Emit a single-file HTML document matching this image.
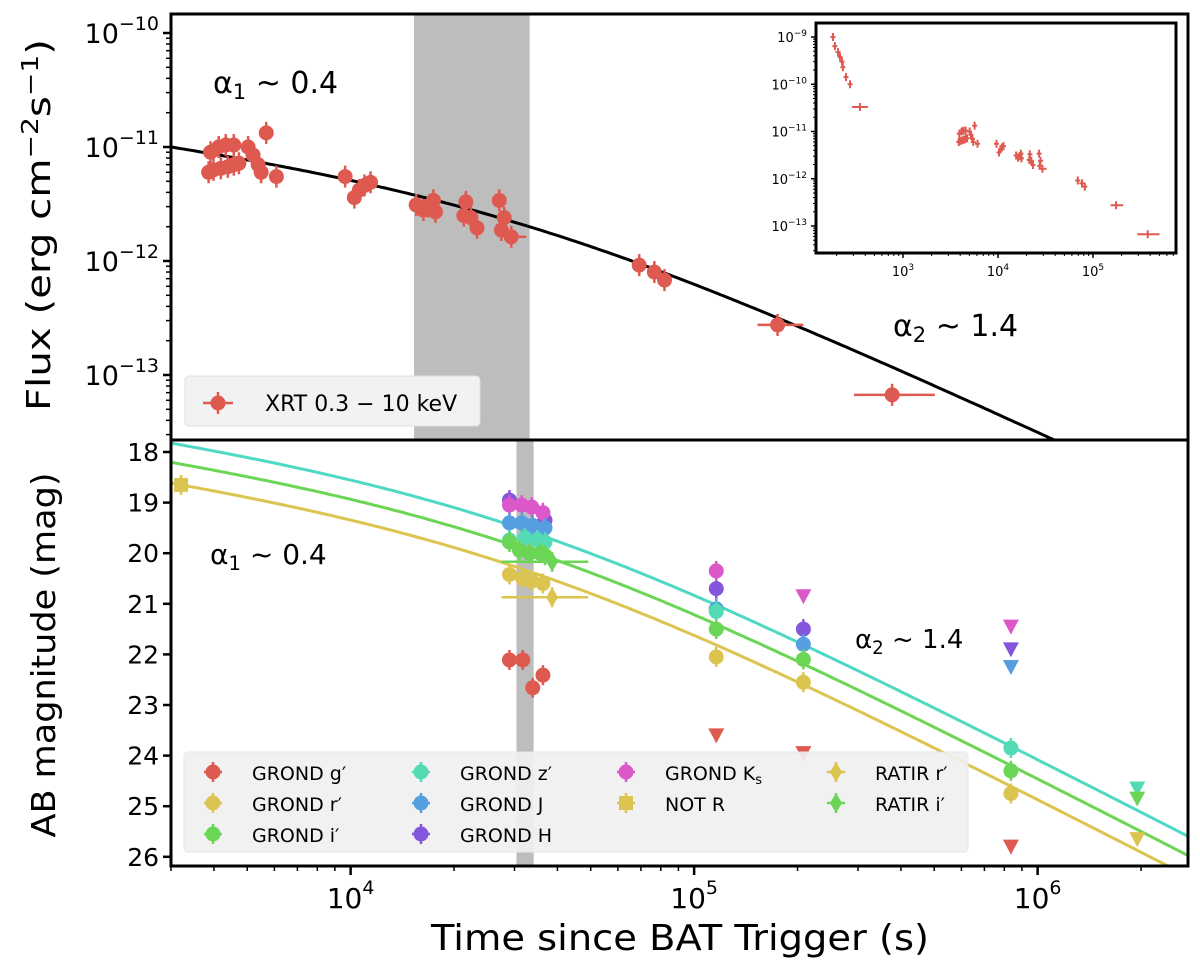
<!DOCTYPE html>
<html><head><meta charset="utf-8"><style>
html,body{margin:0;padding:0;background:#fff;}
svg{display:block;font-family:"DejaVu Sans","Liberation Sans",sans-serif;}
</style></head><body>
<svg id="chart" width="1200" height="966" viewBox="0 0 1200 966" xmlns="http://www.w3.org/2000/svg">
<g id="top"></g>
<g id="inset"></g>
<g id="bot"></g>
<g id="frames"></g>
</svg>
<script>
// ---- X-ray data (time s, flux erg/cm2/s) ----
const xrtT = [3860,3990,4190,4390,4570,4730,3910,4130,4330,4570,5030,5200,5380,5490,5680,6080,9640,10250,10610,10970,11430,15520,16290,16840,17420,17660,21360,21650,22400,23330,27090,27470,28000,29350,69200,76600,82000,175000,377000];
const xrtF = [6.0e-12,6.3e-12,6.5e-12,6.7e-12,7.0e-12,7.2e-12,9.0e-12,1.0e-11,1.04e-11,1.04e-11,1.0e-11,8.5e-12,7.0e-12,6.0e-12,1.33e-11,5.5e-12,5.5e-12,3.6e-12,4.2e-12,4.6e-12,4.9e-12,3.1e-12,2.8e-12,3.0e-12,3.4e-12,2.7e-12,2.5e-12,3.3e-12,2.4e-12,1.95e-12,3.4e-12,1.87e-12,2.4e-12,1.63e-12,9.2e-13,8.0e-13,6.8e-13,2.75e-13,6.7e-14];
const xrtTlo = [null,null,null,null,null,null,null,null,null,null,null,null,null,null,null,null,null,null,null,null,null,null,null,null,null,null,null,null,null,null,null,null,null,null,null,null,null,153000,292000];
const xrtThi = [null,null,null,null,null,null,null,null,null,null,null,null,null,null,null,null,null,null,null,null,null,null,null,null,null,null,null,null,null,null,null,null,null,32500,null,null,null,208000,502000];
const earlyT = [183,192,207,217,228,233,251,277,352];
const earlyF = [1.0e-9,6.4e-10,4.8e-10,3.8e-10,3.0e-10,2.3e-10,1.42e-10,1.0e-10,3.3e-11];
// model parameters
const alpha1 = 0.4, alpha2 = 1.4, tBreak = 30000, normF = 4.38e-12;
const magZero = {teal:18.72, green:19.10, yellow:19.51};
// ---- optical data (time, AB mag) ----
const gT=[29000,31700,33900,36300], gM=[22.11,22.11,22.66,22.41];
const rT=[29000,31700,33700,36300,116000,208000,836000], rM=[20.42,20.5,20.55,20.6,22.05,22.55,24.75];
const iT=[29000,31000,33200,35600,36800,116000,208000,836000], iM=[19.78,19.94,20.0,20.0,20.04,21.5,22.1,24.3];
const zT=[29000,32100,35000,36800,116000,836000], zM=[19.74,19.7,19.74,19.78,21.15,23.85];
const jT=[29000,31500,33900,36800,116000,208000], jM=[19.4,19.4,19.45,19.5,21.1,21.8];
const hT=[29000,36800,116000,208000], hM=[18.95,19.35,20.7,21.5];
const kT=[29000,31500,33700,36300,116000], kM=[19.05,19.05,19.09,19.2,20.35];
const notT=[3210], notM=[18.65];
const ratRT=[38600], ratRM=[20.87], ratIT=[38600], ratIM=[20.17];
const ulT=[116000,208000,208000,836000,836000,836000,836000,1950000,1950000,1950000];
const ulM=[23.6,20.85,23.95,21.45,21.9,22.25,25.8,24.65,24.85,25.65];
const ulBand=['g','k','g','k','h','j','g','z','i','r'];

const C={g:'#de5a50',r:'#dcc450',i:'#6bd655',z:'#52dbb4',j:'#559ee0',h:'#8456dc',k:'#dc57c8',teal:'#4fd8c4',green:'#6bd655',yellow:'#dcc450'};
const NS='http://www.w3.org/2000/svg';
function el(tag,attrs,parent){const e=document.createElementNS(NS,tag);for(const k in attrs)e.setAttribute(k,attrs[k]);parent.appendChild(e);return e;}
const L=171,R=1188, T1=14,B1=440, T2=440,B2=866;
const lx0=Math.log10(3000), lx1=Math.log10(2.74e6);
function X(t){return L+(Math.log10(t)-lx0)/(lx1-lx0)*(R-L);}
function Yf(f){return 33+(-10-Math.log10(f))*114;}
function Ym(m){return 452+(m-18)*50.6;}
function shape(t){const r=t/tBreak;return 1/(Math.pow(r,alpha1)+Math.pow(r,alpha2));}
const gTop=document.getElementById('top'), bot=document.getElementById('bot'), ins=document.getElementById('inset'), frames=document.getElementById('frames');

const defs=el('defs',{},document.getElementById('chart'));
const c1=el('clipPath',{id:'c1'},defs); el('rect',{x:L,y:T1,width:R-L,height:B1-T1},c1);
const c2=el('clipPath',{id:'c2'},defs); el('rect',{x:L,y:T2,width:R-L,height:B2-T2},c2);

let b=el('rect',{x:X(15300),y:T1,width:X(33200)-X(15300),height:B1-T1,fill:'#bdbdbd'},gTop);


b=el('rect',{x:X(30400),y:T2,width:X(34100)-X(30400),height:B2-T2,fill:'#bdbdbd'},bot);



let d='';for(let i=0;i<=300;i++){const lt=lx0+(lx1-lx0)*i/300,t=Math.pow(10,lt);d+=(i?'L':'M')+X(t).toFixed(1)+','+Yf(normF*shape(t)).toFixed(1);}
let p=el('path',{d:d,fill:'none',stroke:'#000','stroke-width':3,'clip-path':'url(#c1)'},gTop);



const gx=el('g',{'clip-path':'url(#c1)'},gTop);


xrtT.forEach((t,i)=>{const x=X(t),y=Yf(xrtF[i]);
 el('line',{x1:x,x2:x,y1:y-11,y2:y+11,stroke:C.g,'stroke-width':2.5},gx);
 if(xrtTlo[i]||xrtThi[i]) el('line',{x1:X(xrtTlo[i]||t),x2:X(xrtThi[i]||t),y1:y,y2:y,stroke:C.g,'stroke-width':2.5},gx);
 const c=el('circle',{cx:x,cy:y,r:7.5,fill:C.g},gx);
 
 
});

const lg=el('g',{},gTop);


el('rect',{x:185,y:376,width:295,height:50,rx:4,fill:'#f2f2f2',stroke:'#e0e0e0'},lg);
el('line',{x1:203,x2:233,y1:403,y2:403,stroke:C.g,'stroke-width':2.5},lg);
el('line',{x1:218,x2:218,y1:392,y2:414,stroke:C.g,'stroke-width':2.5},lg);
el('circle',{cx:218,cy:403,r:7.5,fill:C.g},lg);
let tx=el('text',{x:265,y:411,'font-size':22},lg);tx.textContent='XRT 0.3 − 10 keV';



function ann(par,x,y,sub,val,fs,name){const t=el('text',{x:x,y:y,'font-size':fs},par);
 t.innerHTML='α<tspan font-size="'+(fs*0.7)+'" dy="6">'+sub+'</tspan><tspan dy="-6"> ~ '+val+'</tspan>';
 
 }
ann(gTop,213,93,'1','0.4',30,'alpha1-annotation-top');
ann(gTop,893,336,'2','1.4',30,'alpha2-annotation-top');
ann(bot,210,564,'1','0.4',28,'alpha1-annotation-bottom');
ann(bot,855,648,'2','1.4',26,'alpha2-annotation-bottom');

const IL=816,IR=1176,IT=23,IB=253, ix0=2.084, ix1=5.874;
function IX(t){return IL+(Math.log10(t)-ix0)/(ix1-ix0)*(IR-IL);}
function IY(f){return 37+(-9-Math.log10(f))*47.25;}
el('rect',{x:IL,y:IT,width:IR-IL,height:IB-IT,fill:'#fff',stroke:'#000','stroke-width':3},ins);
const allT=earlyT.concat(xrtT), allF=earlyF.concat(xrtF);
const ilo=earlyT.map(()=>null).concat(xrtTlo), ihi=earlyT.map(()=>null).concat(xrtThi);
allT.forEach((t,i)=>{const x=IX(t),y=IY(allF[i]);
 const m=el('g',{},ins);
 
 
 el('line',{x1:x,x2:x,y1:y-4,y2:y+4,stroke:C.g,'stroke-width':2},m);
 const lo=ilo[i]?IX(ilo[i]):x-2.5, hi=ihi[i]?IX(ihi[i]):x+2.5;
 el('line',{x1:lo,x2:hi,y1:y,y2:y,stroke:C.g,'stroke-width':2},m);
 if(i===earlyT.length-1) el('line',{x1:x-8,x2:x+8,y1:y,y2:y,stroke:C.g,'stroke-width':2},m);
});
for(let e=-9;e>=-13;e--){const y=IY(Math.pow(10,e));el('line',{x1:IL-5,x2:IL,y1:y,y2:y,stroke:'#000','stroke-width':1.5},ins);
 const t=el('text',{x:IL-9,y:y+5,'font-size':13,'text-anchor':'end'},ins);t.innerHTML='10<tspan dy="-6" font-size="9">−'+(-e)+'</tspan>';
 
 
 for(let k=2;k<10;k++){const yy=IY(k*Math.pow(10,e-1));if(yy>IT&&yy<IB)el('line',{x1:IL-3,x2:IL,y1:yy,y2:yy,stroke:'#000','stroke-width':1},ins);}}
for(let e=2;e<=5;e++){for(let k=1;k<10;k++){const x=IX(k*Math.pow(10,e));if(x<IL||x>IR)continue;el('line',{x1:x,x2:x,y1:IB,y2:IB+(k==1?5:3),stroke:'#000','stroke-width':k==1?1.5:1},ins);}
 if(e>=3){const t=el('text',{x:IX(Math.pow(10,e)),y:IB+23,'font-size':13,'text-anchor':'middle'},ins);t.innerHTML='10<tspan dy="-6" font-size="9">'+e+'</tspan>';
 
 }}

[['teal','model-line-z'],['green','model-line-i'],['yellow','model-line-r']].forEach(([k,n])=>{let d='';
 for(let i=0;i<=300;i++){const lt=lx0+(lx1-lx0)*i/300,t=Math.pow(10,lt);d+=(i?'L':'M')+X(t).toFixed(1)+','+Ym(magZero[k]-2.5*Math.log10(shape(t))).toFixed(1);}
 const q=el('path',{d:d,fill:'none',stroke:C[k],'stroke-width':3,'clip-path':'url(#c2)'},bot);
 
 });

const gb=el('g',{'clip-path':'url(#c2)'},bot);


function pts(T,M,col,name,shapeType,xlo,xhi){T.forEach((t,i)=>{const x=X(t),y=Ym(M[i]);
 const g=el('g',{},gb);
 
 
 el('line',{x1:x,x2:x,y1:y-10,y2:y+10,stroke:col,'stroke-width':2.5},g);
 if(xlo) el('line',{x1:X(xlo[i]),x2:X(xhi[i]),y1:y,y2:y,stroke:col,'stroke-width':2.5},g);
 if(shapeType==='s') el('rect',{x:x-7,y:y-7,width:14,height:14,fill:col},g);
 else if(shapeType==='d') el('path',{d:`M${x},${y-10}L${x+6},${y}L${x},${y+10}L${x-6},${y}Z`,fill:col},g);
 else el('circle',{cx:x,cy:y,r:7.5,fill:col},g);});}
pts(gT,gM,C.g,'grond-g-point');
pts(hT,hM,C.h,'grond-h-point');
pts(kT,kM,C.k,'grond-ks-point');
pts(jT,jM,C.j,'grond-j-point');
pts(zT,zM,C.z,'grond-z-point');
pts(iT,iM,C.i,'grond-i-point');
pts(rT,rM,C.r,'grond-r-point');
pts(ratIT,ratIM,C.i,'ratir-i-point','d',[27500],[49200]);
pts(ratRT,ratRM,C.r,'ratir-r-point','d',[27500],[49200]);
pts(notT,notM,C.r,'not-r-point','s');
ulT.forEach((t,i)=>{const x=X(t),y=Ym(ulM[i]);
 const tri=el('path',{d:`M${x-8},${y-7}L${x+8},${y-7}L${x},${y+8}Z`,fill:C[ulBand[i]]},gb);
 
 });

const bl=el('g',{},bot);


el('rect',{x:184,y:752,width:784,height:100,rx:4,fill:'#f0f0f0','fill-opacity':0.92,stroke:'#e6e6e6'},bl);
const legItems=[['g','GROND g′',213,772,'c'],['r','GROND r′',213,803,'c'],['i','GROND i′',213,834,'c'],
 ['z','GROND z′',421,772,'c'],['j','GROND J',421,803,'c'],['h','GROND H',421,834,'c'],
 ['k','GROND K',626,772,'c'],['r','NOT R',626,803,'s'],['r','RATIR r′',836,772,'d'],['i','RATIR i′',836,803,'d']];
legItems.forEach(([k,lab,x,y,s])=>{const g=el('g',{},bl);
 
 
 el('line',{x1:x,x2:x,y1:y-10,y2:y+10,stroke:C[k],'stroke-width':2.5},g);
 el('line',{x1:x-9,x2:x+9,y1:y,y2:y,stroke:C[k],'stroke-width':2.5},g);
 if(s==='s')el('rect',{x:x-7,y:y-7,width:14,height:14,fill:C[k]},g);
 else if(s==='d')el('path',{d:`M${x},${y-10}L${x+6},${y}L${x},${y+10}L${x-6},${y}Z`,fill:C[k]},g);
 else el('circle',{cx:x,cy:y,r:7.5,fill:C[k]},g);
 const t=el('text',{x:x+39,y:y+8,'font-size':19},g);t.textContent=lab;
 if(lab==='GROND K'){el('tspan',{'font-size':13,dy:4},t).textContent='s';}});

el('rect',{x:L,y:T1,width:R-L,height:B1-T1,fill:'none',stroke:'#000','stroke-width':3},frames);
el('rect',{x:L,y:T2,width:R-L,height:B2-T2,fill:'none',stroke:'#000','stroke-width':3},frames);
for(let e=-10;e>=-13;e--){const y=Yf(Math.pow(10,e));el('line',{x1:L-8,x2:L,y1:y,y2:y,stroke:'#000','stroke-width':2.5},frames);
 const t=el('text',{x:L-12,y:y+10,'font-size':27,'text-anchor':'end'},frames);t.innerHTML='10<tspan dy="-13" font-size="19">−'+(-e)+'</tspan>';
 
 }
for(let e=-14;e<=-10;e++)for(let k=2;k<10;k++){const y=Yf(k*Math.pow(10,e));if(y>T1&&y<B1)el('line',{x1:L-5,x2:L,y1:y,y2:y,stroke:'#000','stroke-width':1.5},frames);}
for(let m=18;m<=26;m++){const y=Ym(m);el('line',{x1:L-8,x2:L,y1:y,y2:y,stroke:'#000','stroke-width':2.5},frames);
 const t=el('text',{x:L-12,y:y+9,'font-size':25,'text-anchor':'end'},frames);t.textContent=m;
 
 }
for(let e=3;e<=6;e++)for(let k=1;k<10;k++){const x=X(k*Math.pow(10,e));if(x<L-1||x>R+1)continue;
 el('line',{x1:x,x2:x,y1:B2,y2:B2+(k==1?9:5),stroke:'#000','stroke-width':k==1?2.5:1.5},frames);
 if(k==1){const t=el('text',{x:x,y:B2+42,'font-size':28,'text-anchor':'middle'},frames);t.innerHTML='10<tspan dy="-14" font-size="19">'+e+'</tspan>';
 
 }}
let a=el('text',{x:680,y:950,'font-size':36,'text-anchor':'middle',textLength:498,lengthAdjust:'spacingAndGlyphs'},frames);a.textContent='Time since BAT Trigger (s)';


a=el('text',{x:0,y:0,'font-size':33,'text-anchor':'middle',transform:'translate(50,225) rotate(-90)',textLength:372,lengthAdjust:'spacingAndGlyphs'},frames);
a.innerHTML='Flux (erg cm<tspan dy="-12" font-size="23">−2</tspan><tspan dy="12">s</tspan><tspan dy="-12" font-size="23">−1</tspan><tspan dy="12">)</tspan>';


a=el('text',{x:0,y:0,'font-size':33,'text-anchor':'middle',transform:'translate(55,655) rotate(-90)',textLength:365,lengthAdjust:'spacingAndGlyphs'},frames);
a.textContent='AB magnitude (mag)';


</script>
</body></html>
